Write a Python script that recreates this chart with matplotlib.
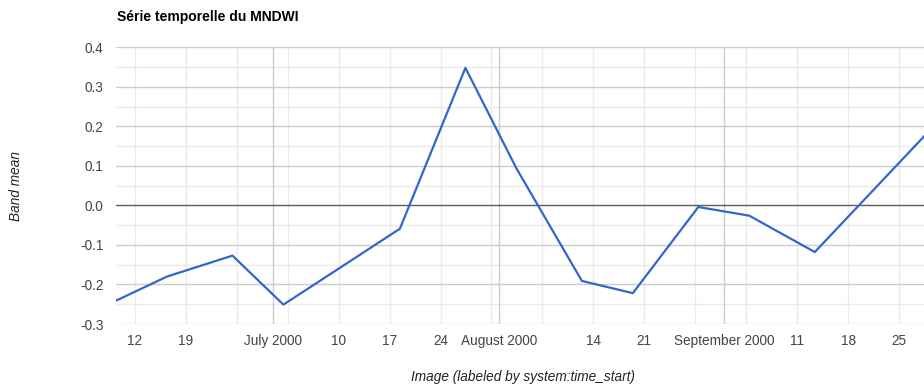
import matplotlib
matplotlib.use("Agg")
import matplotlib.pyplot as plt
import pandas as pd

# dates des images (heure ~10h UTC) et moyenne MNDWI
dates = ["2000-06-09 10:00", "2000-06-16 10:00", "2000-06-25 10:00", "2000-07-02 10:00",
         "2000-07-18 10:00", "2000-07-27 10:00", "2000-08-03 10:00", "2000-08-12 10:00",
         "2000-08-19 10:00", "2000-08-28 10:00", "2000-09-04 10:00", "2000-09-13 10:00",
         "2000-09-29 10:00"]
mndwi = [-0.241, -0.180, -0.127, -0.251, -0.059, 0.348, 0.094, -0.191,
         -0.222, -0.004, -0.026, -0.118, 0.194]

tick_dates = ["2000-06-12", "2000-06-19", "2000-07-01", "2000-07-10", "2000-07-17",
              "2000-07-24", "2000-08-01", "2000-08-14", "2000-08-21", "2000-09-01",
              "2000-09-11", "2000-09-18", "2000-09-25"]
tick_labels = ["12", "19", "July 2000", "10", "17", "24", "August 2000", "14", "21",
               "September 2000", "11", "18", "25"]

dates = pd.to_datetime(dates)
tick_dates = pd.to_datetime(tick_dates)

plt.rcParams['font.family'] = ['Liberation Sans', 'DejaVu Sans']

fig = plt.figure(figsize=(9.24, 3.87), dpi=100)
ax = fig.add_axes([116 / 924, 1 - 324 / 387, 1 - 116 / 924, (324 - 47.3) / 387])

x0 = dates[0]
x1 = pd.Timestamp("2000-09-28 10:00")
ax.set_xlim(x0, x1)
ax.set_ylim(-0.3, 0.4)

# grille verticale : lundis (clair) et débuts de mois (plus foncé)
for d in pd.date_range("2000-06-05", "2000-10-02", freq="W-MON"):
    ax.axvline(d, color="#ebebeb", lw=1, zorder=0)
for d in pd.date_range("2000-07-01", "2000-09-01", freq="MS"):
    ax.axvline(d, color="#cccccc", lw=1, zorder=0.5)

# grille horizontale
for v in [-0.25, -0.15, -0.05, 0.05, 0.15, 0.25, 0.35]:
    ax.axhline(v, color="#ebebeb", lw=1, zorder=0)
for v in [-0.3, -0.2, -0.1, 0.1, 0.2, 0.3, 0.4]:
    ax.axhline(v, color="#cccccc", lw=1, zorder=0.5)
ax.axhline(0, color="#333333", lw=1, zorder=1, alpha=0.8)

ax.plot(dates, mndwi, color="#3366cc", lw=1.6, zorder=3)

ax.set_xticks(tick_dates)
ax.set_xticklabels(tick_labels)
ax.set_yticks([-0.3, -0.2, -0.1, 0.0, 0.1, 0.2, 0.3, 0.4])
ax.set_yticklabels(["-0.3", "-0.2", "-0.1", "0.0", "0.1", "0.2", "0.3", "0.4"])
ax.tick_params(length=0, labelsize=9.8, labelcolor="#444444")
ax.tick_params(axis="x", pad=7.5)
ax.tick_params(axis="y", pad=9)
for s in ax.spines.values():
    s.set_visible(False)

fig.text(117 / 924, 1 - 17 / 387, "Série temporelle du MNDWI", fontsize=10,
         fontweight="bold", color="#000000", va="center", ha="left")
fig.text(16 / 924, 1 - 186 / 387, "Band mean", fontsize=9.8, style="italic",
         color="#222222", rotation=90, va="center", ha="center")
fig.text(523 / 924, 1 - 377 / 387, "Image (labeled by system:time_start)", fontsize=9.8,
         style="italic", color="#222222", va="center", ha="center")

fig.savefig("out.png", dpi=100)
